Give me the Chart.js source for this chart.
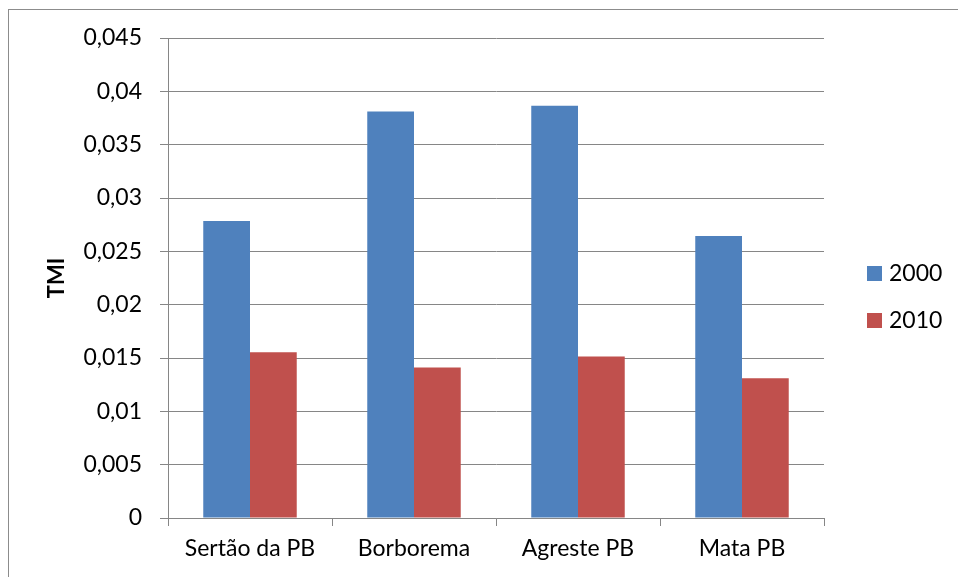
<!DOCTYPE html>
<html>
<head>
<meta charset="utf-8">
<script src="https://cdn.jsdelivr.net/npm/chart.js@4/dist/chart.umd.min.js"></script>
<style>
  html, body { margin: 0; padding: 0; background: #fff; }
  #wrap { width: 958px; height: 577px; }
</style>
</head>
<body>
<div id="wrap"><canvas id="c" width="958" height="577"></canvas></div>
<script>
// Mesorregiões da Paraíba
const regions = ['Sertão da PB', 'Borborema', 'Agreste PB', 'Mata PB'];
// Taxa de mortalidade infantil por ano
const tmi2000 = [0.02785, 0.0381, 0.03865, 0.02644];
const tmi2010 = [0.01553, 0.01412, 0.01515, 0.01309];
const yTickLabels = ['0', '0,005', '0,01', '0,015', '0,02', '0,025', '0,03', '0,035', '0,04', '0,045'];

const FONT = 'Lato, "Open Sans", sans-serif';
const FONT_SIZE = 23;
const AXIS_GRAY = '#868686';

// Frame around the chart and the legend on the right
const framePlugin = {
  id: 'frame',
  beforeDraw(chart) {
    const ctx = chart.ctx;
    ctx.save();
    ctx.fillStyle = '#fff';
    ctx.fillRect(0, 0, chart.width, chart.height);
    ctx.strokeStyle = '#8c8c8c';
    ctx.lineWidth = 1;
    ctx.strokeRect(8.5, 9.5, 1200, 1200);
    ctx.restore();
  },
  afterDraw(chart) {
    const ctx = chart.ctx;
    ctx.save();
    ctx.font = FONT_SIZE + 'px ' + FONT;
    ctx.textBaseline = 'middle';
    ctx.textAlign = 'left';
    const yCenters = [273, 320];
    chart.data.datasets.forEach((ds, i) => {
      ctx.fillStyle = ds.backgroundColor;
      ctx.fillRect(867, yCenters[i] - 7, 15, 15);
      ctx.fillStyle = '#000';
      ctx.fillText(ds.label, 889, yCenters[i] + 1);
    });
    ctx.restore();
  }
};

new Chart(document.getElementById('c'), {
  type: 'bar',
  data: {
    labels: regions,
    datasets: [
      { label: '2000', data: tmi2000, backgroundColor: '#4F81BD' },
      { label: '2010', data: tmi2010, backgroundColor: '#C0504D' }
    ]
  },
  options: {
    responsive: false,
    animation: false,
    devicePixelRatio: 1,
    layout: { padding: { left: 0, top: 38, right: 134, bottom: 0 } },
    datasets: { bar: { categoryPercentage: 0.57, barPercentage: 1.0 } },
    plugins: { legend: { display: false }, tooltip: { enabled: false } },
    scales: {
      x: {
        grid: { display: true, drawOnChartArea: false, drawTicks: true, tickLength: 8, color: AXIS_GRAY, offset: true },
        border: { display: true, color: AXIS_GRAY, width: 1 },
        ticks: { color: '#000', font: { family: FONT, size: FONT_SIZE }, padding: 9, maxRotation: 0 },
        afterFit(scale) { scale.height = 59; }
      },
      y: {
        min: 0,
        max: 0.045,
        grid: { color: AXIS_GRAY, lineWidth: 1, tickLength: 8, drawTicks: true },
        border: { display: true, color: AXIS_GRAY, width: 1 },
        ticks: {
          stepSize: 0.005,
          color: '#000',
          font: { family: FONT, size: FONT_SIZE },
          padding: 18,
          callback: (v, i) => yTickLabels[i]
        },
        title: {
          display: true,
          text: 'TMI',
          color: '#000',
          font: { family: FONT, size: 22, weight: 'bold' },
          padding: { top: 44, bottom: 0 }
        },
        afterFit(scale) { scale.width = 168; }
      }
    }
  },
  plugins: [framePlugin]
});
</script>
</body>
</html>
